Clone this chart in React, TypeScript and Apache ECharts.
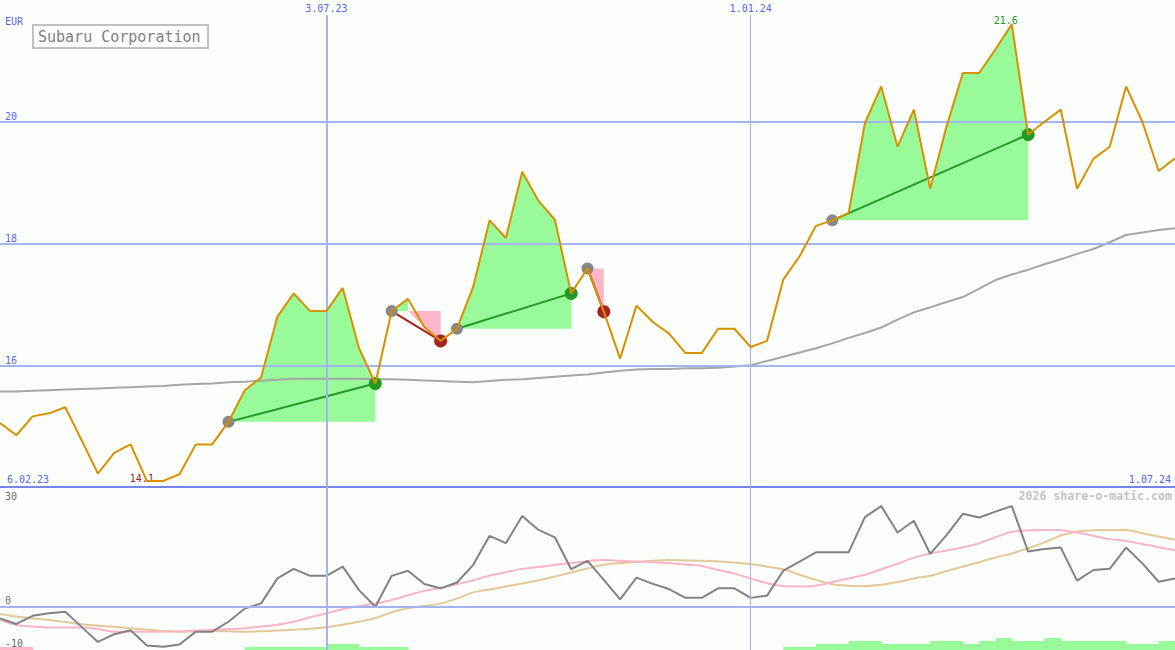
import React, { useEffect, useRef } from "react";
import * as echarts from "echarts";

// ---------- data ----------
const prices = [
  15.05, 14.85, 15.16, 15.21, 15.31, 14.77, 14.22, 14.56, 14.7, 14.1,
  14.1, 14.21, 14.7, 14.7, 15.07, 15.59, 15.8, 16.8, 17.18, 16.89,
  16.89, 17.27, 16.28, 15.7, 16.89, 17.09, 16.63, 16.4, 16.6, 17.29,
  18.38, 18.09, 19.18, 18.7, 18.39, 17.18, 17.59, 16.88, 16.11, 16.98,
  16.71, 16.52, 16.2, 16.2, 16.6, 16.6, 16.3, 16.4, 17.41, 17.79,
  18.29, 18.38, 18.5, 19.98, 20.58, 19.59, 20.2, 18.9, 19.92, 20.8,
  20.8, 21.19, 21.6, 19.79, 20.0, 20.2, 18.9, 19.39, 19.59, 20.58,
  20.0, 19.19, 19.4,
];
const trendAvg = [
  15.57, 15.57, 15.58, 15.59, 15.6, 15.61, 15.62, 15.63, 15.64, 15.65,
  15.66, 15.68, 15.69, 15.7, 15.72, 15.73, 15.745, 15.76, 15.78, 15.78,
  15.78, 15.78, 15.78, 15.77, 15.77, 15.76, 15.75, 15.74, 15.73, 15.72,
  15.74, 15.76, 15.77, 15.79, 15.81, 15.83, 15.85, 15.88, 15.91, 15.93,
  15.94, 15.94, 15.95, 15.95, 15.96, 15.98, 16.0, 16.07, 16.14, 16.21,
  16.28, 16.36, 16.45, 16.53, 16.62, 16.75, 16.87, 16.95, 17.04, 17.12,
  17.26, 17.4, 17.49, 17.57, 17.66, 17.74, 17.83, 17.91, 18.02, 18.14,
  18.18, 18.22, 18.25,
];
const momentum = [
  -3.1, -4.6, -2.4, -1.7, -1.3, -5.4, -9.5, -7.4, -6.3, -10.5,
  -10.8, -10.2, -6.7, -6.7, -4.0, -0.4, 1.0, 7.8, 10.4, 8.5,
  8.5, 11.0, 4.6, 0.1, 8.5, 9.9, 6.3, 5.1, 6.7, 11.5,
  19.4, 17.4, 24.8, 21.0, 19.0, 10.3, 12.6, 7.4, 2.1, 8.0,
  6.3, 4.9, 2.5, 2.5, 5.1, 5.1, 2.5, 3.1, 9.9, 12.4,
  14.9, 14.9, 14.9, 24.5, 27.5, 20.3, 23.5, 14.5, 19.6, 25.4,
  24.4, 26.0, 27.5, 15.1, 15.8, 16.2, 7.2, 10.1, 10.4, 16.2,
  11.9, 6.9, 7.8,
];
const signalFast = [
  -3.5, -4.9, -5.3, -5.6, -5.6, -5.6, -6.0, -6.7, -6.7, -6.7,
  -6.7, -6.6, -6.4, -6.2, -6.0, -5.8, -5.3, -4.8, -4.0, -2.8,
  -1.7, -0.6, 0.3, 0.9, 1.9, 3.2, 4.4, 5.2, 6.2, 7.3,
  8.6, 9.5, 10.4, 10.9, 11.5, 12.0, 12.5, 12.8, 12.6, 12.4,
  12.2, 12.0, 11.6, 11.2, 10.1, 9.1, 7.8, 6.5, 5.7, 5.6,
  5.8, 6.8, 7.8, 8.8, 10.3, 11.8, 13.4, 14.6, 15.4, 16.3,
  17.4, 19.0, 20.5, 20.9, 21.0, 20.9, 20.3, 19.4, 18.5, 18.0,
  17.2, 16.3, 15.5,
];
const signalSlow = [
  -1.9, -2.6, -3.1, -3.5, -4.1, -4.7, -5.1, -5.4, -5.8, -6.2,
  -6.5, -6.7, -6.6, -6.5, -6.6, -6.7, -6.6, -6.4, -6.2, -5.9,
  -5.5, -4.8, -4.0, -3.0, -1.4, -0.3, 0.3, 1.0, 2.3, 4.0,
  4.8, 5.6, 6.4, 7.3, 8.3, 9.4, 10.5, 11.5, 12.0, 12.3,
  12.6, 12.8, 12.7, 12.6, 12.4, 12.1, 11.7, 11.0, 10.3, 8.8,
  7.4, 6.2, 5.8, 5.7, 6.1, 6.8, 7.8, 8.5, 9.8, 11.0,
  12.2, 13.5, 14.6, 16.0, 17.6, 19.5, 20.6, 20.9, 21.0, 21.0,
  20.1, 19.2, 18.3,
];
// per weekly interval: >0 green strength, <0 pink strength
const signalBars = [
  -1, -1, 0, 0, 0, 0, 0, 0, 0, 0,
  0, 0, 0, 0, 0, 1, 1, 1, 1, 1,
  2, 2, 1, 1, 1, 0, 0, 0, 0, 0,
  0, 0, 0, 0, 0, 0, 0, 0, 0, 0,
  0, 0, 0, 0, 0, 0, 0, 0, 1, 1,
  2, 2, 3, 3, 2, 2, 2, 3, 3, 2,
  3, 4, 3, 3, 4, 3, 3, 3, 3, 2,
  2, 3,
];
// trades: [entry index, exit index]
const trades = [
  [14, 23],
  [24, 27],
  [28, 35],
  [36, 37],
  [51, 63],
];
const dateIdx = [20, 46];
const dateLabels = ["3.07.23", "1.01.24"];
const priceTicks = [16, 18, 20];
const oscTicks = [-10, 30];
const startLabel = "6.02.23";
const endLabel = "1.07.24";
const title = "Subaru Corporation";
const currency = "EUR";
const watermark = "2026 share-o-matic.com";

// ---------- styles ----------
const BG = "#fcfefb";
const GRID = "#a4b3f3";
const SEP = "#7585ea";
const TXT = "#5566ee";
const ORANGE = "#d99000";
const GREEN = "#98fa98";
const PINK = "#ffb6c8";
const DGREEN = "#229922";
const DRED = "#a82020";
const MONO = "DejaVu Sans Mono";

const pts = (arr: number[]) => arr.map((v, i) => [i, v]);

export default function App() {
  const ref = useRef<HTMLDivElement>(null);
  useEffect(() => {
    if (!ref.current) return;
    const chart = echarts.init(ref.current, undefined, { renderer: "svg" });
    const N = prices.length - 1;
    let minI = 0,
      maxI = 0;
    prices.forEach((v, i) => {
      if (v < prices[minI]) minI = i;
      if (v > prices[maxI]) maxI = i;
    });

    const option: any = {
      animation: false,
      backgroundColor: BG,
      grid: [
        { left: 0, right: 0, top: 0, height: 487 },
        { left: 0, right: 0, top: 487, height: 163 },
      ],
      xAxis: [0, 1].map((g) => ({
        type: "value",
        gridIndex: g,
        min: 0,
        max: N,
        show: false,
      })),
      yAxis: [
        {
          type: "value",
          gridIndex: 0,
          min: 14,
          max: 22,
          axisLine: { show: false },
          axisTick: { show: false },
          splitLine: { show: false },
          axisLabel: {
            inside: true,
            customValues: priceTicks,
            color: TXT,
            fontFamily: MONO,
            fontSize: 10,
            verticalAlign: "bottom",
            margin: 5,
          },
        },
        {
          type: "value",
          gridIndex: 1,
          min: -11.7,
          max: 32.7,
          axisLine: { show: false },
          axisTick: { show: false },
          splitLine: { show: false },
          axisLabel: {
            inside: true,
            customValues: oscTicks,
            color: "#6a6a6a",
            fontFamily: MONO,
            fontSize: 10,
            verticalAlign: "middle",
            margin: 5,
          },
        },
        { type: "value", gridIndex: 1, min: 0, max: 163 / 3, show: false },
      ],
      graphic: [
        {
          type: "rect",
          shape: { x: 33, y: 25, width: 175, height: 23 },
          style: { fill: "#fdfefd", stroke: "#c0c0c0", lineWidth: 2 },
          z: 10,
        },
        {
          type: "text",
          x: 38,
          y: 36.5,
          style: {
            text: title,
            fill: "#808080",
            font: `15px '${MONO}'`,
            verticalAlign: "middle",
          },
          z: 11,
        },
        {
          type: "text",
          x: 5,
          y: 21.5,
          style: { text: currency, fill: TXT, font: `10px '${MONO}'`, verticalAlign: "middle" },
          z: 11,
        },
        {
          type: "text",
          x: 7,
          y: 479,
          style: { text: startLabel, fill: TXT, font: `10px '${MONO}'`, verticalAlign: "middle" },
          z: 11,
        },
        {
          type: "text",
          x: 1171,
          y: 479,
          style: {
            text: endLabel,
            fill: TXT,
            font: `10px '${MONO}'`,
            verticalAlign: "middle",
            align: "right",
          },
          z: 11,
        },
        {
          type: "text",
          x: 1172,
          y: 496,
          style: {
            text: watermark,
            fill: "#c4c4c4",
            font: `bold 11.6px '${MONO}'`,
            verticalAlign: "middle",
            align: "right",
          },
          z: 11,
        },
      ],
      series: [
        // grid lines (main)
        {
          type: "line",
          xAxisIndex: 0,
          yAxisIndex: 0,
          data: [],
          silent: true,
          z: 1,
          markLine: {
            silent: true,
            symbol: "none",
            label: { show: false },
            data: [
              ...priceTicks.map((v) => ({ yAxis: v, lineStyle: { color: GRID, width: 2, type: "solid" } })),
              { yAxis: 14, lineStyle: { color: SEP, width: 2, type: "solid" } },
              ...dateIdx.map((d, k) => [
                { coord: [d, 14], lineStyle: { color: GRID, width: k === 0 ? 2 : 1, type: "solid" } },
                {
                  coord: [d, 21.75],
                  label: {
                    show: true,
                    position: "end",
                    formatter: dateLabels[k],
                    color: TXT,
                    fontFamily: MONO,
                    fontSize: 10,
                    distance: 2,
                  },
                },
              ]),
            ],
          },
        },
        // grid lines (oscillator)
        {
          type: "line",
          xAxisIndex: 1,
          yAxisIndex: 1,
          data: [],
          silent: true,
          z: 1,
          markLine: {
            silent: true,
            symbol: "none",
            label: { show: false },
            data: [
              {
                yAxis: 0,
                lineStyle: { color: GRID, width: 2, type: "solid" },
                label: {
                  show: true,
                  position: "insideStartTop",
                  formatter: "0",
                  color: "#6a6a6a",
                  fontFamily: MONO,
                  fontSize: 10,
                  distance: [5, 2],
                },
              },
              ...dateIdx.map((d, k) => [
                { coord: [d, -11.7], lineStyle: { color: GRID, width: k === 0 ? 2 : 1, type: "solid" } },
                { coord: [d, 32.7] },
              ]),
            ],
          },
        },
        // trade fills
        {
          type: "custom",
          xAxisIndex: 0,
          yAxisIndex: 0,
          silent: true,
          z: 2,
          data: trades,
          renderItem: (_p: any, api: any) => {
            const s = api.value(0);
            const e = api.value(1);
            const E = prices[s];
            const children: any[] = [];
            let k = s;
            while (k + 1 <= e && prices[k + 1] >= E) k++;
            if (k > s) {
              const poly = [api.coord([s, E])];
              for (let i = s; i <= k; i++) poly.push(api.coord([i, prices[i]]));
              poly.push(api.coord([k, E]));
              children.push({ type: "polygon", shape: { points: poly }, style: { fill: GREEN } });
            }
            if (prices.slice(s, e + 1).some((v) => v < E)) {
              const poly = [api.coord([s, E])];
              for (let i = s; i <= e; i++) poly.push(api.coord([i, Math.min(prices[i], E)]));
              poly.push(api.coord([e, E]));
              children.push({ type: "polygon", shape: { points: poly }, style: { fill: PINK } });
            }
            return { type: "group", children };
          },
        },
        // long average
        {
          type: "line",
          xAxisIndex: 0,
          yAxisIndex: 0,
          data: pts(trendAvg),
          symbol: "none",
          silent: true,
          z: 3,
          lineStyle: { color: "#a6a6a6", width: 2 },
        },
        // trade lines and dots
        {
          type: "custom",
          xAxisIndex: 0,
          yAxisIndex: 0,
          silent: true,
          z: 4,
          data: trades,
          renderItem: (_p: any, api: any) => {
            const s = api.value(0);
            const e = api.value(1);
            const a = api.coord([s, prices[s]]);
            const b = api.coord([e, prices[e]]);
            const win = prices[e] >= prices[s];
            const c = win ? DGREEN : DRED;
            return {
              type: "group",
              children: [
                { type: "line", shape: { x1: a[0], y1: a[1], x2: b[0], y2: b[1] }, style: { stroke: c, lineWidth: 2 } },
                { type: "circle", shape: { cx: a[0], cy: a[1], r: 6 }, style: { fill: "#888888" } },
                { type: "circle", shape: { cx: b[0], cy: b[1], r: 6.5 }, style: { fill: c } },
              ],
            };
          },
        },
        // price
        {
          type: "line",
          xAxisIndex: 0,
          yAxisIndex: 0,
          data: pts(prices),
          symbol: "none",
          silent: true,
          z: 5,
          lineStyle: { color: ORANGE, width: 2 },
          markPoint: {
            silent: true,
            symbol: "circle",
            symbolSize: 0,
            data: [
              {
                coord: [minI, prices[minI]],
                value: prices[minI].toFixed(1),
                label: { show: true, position: "inside", offset: [-5, -2], color: DRED, fontFamily: MONO, fontSize: 10 },
              },
              {
                coord: [maxI, prices[maxI]],
                value: prices[maxI].toFixed(1),
                label: { show: true, position: "inside", offset: [-6, -4], color: DGREEN, fontFamily: MONO, fontSize: 10 },
              },
            ],
          },
        },
        // oscillator lines
        {
          type: "line",
          xAxisIndex: 1,
          yAxisIndex: 1,
          data: pts(signalSlow),
          symbol: "none",
          silent: true,
          z: 3,
          smooth: 0.3,
          lineStyle: { color: "#e2c898", width: 2 },
        },
        {
          type: "line",
          xAxisIndex: 1,
          yAxisIndex: 1,
          data: pts(signalFast),
          symbol: "none",
          silent: true,
          z: 3,
          smooth: 0.3,
          lineStyle: { color: "#f9b4c8", width: 2 },
        },
        {
          type: "line",
          xAxisIndex: 1,
          yAxisIndex: 1,
          data: pts(momentum),
          symbol: "none",
          silent: true,
          z: 4,
          lineStyle: { color: "#828282", width: 2 },
        },
        // signal bars
        {
          type: "custom",
          xAxisIndex: 1,
          yAxisIndex: 2,
          silent: true,
          z: 2,
          data: signalBars.map((v, i) => [i, v]).filter((d) => d[1] !== 0),
          renderItem: (_p: any, api: any) => {
            const i = api.value(0);
            const lv = api.value(1);
            const p0 = api.coord([i, 0]);
            const p1 = api.coord([i + 1, Math.abs(lv)]);
            return {
              type: "rect",
              shape: { x: p0[0], y: p1[1], width: p1[0] - p0[0] + 0.5, height: p0[1] - p1[1] },
              style: { fill: lv > 0 ? GREEN : PINK },
            };
          },
        },
      ],
    };
    chart.setOption(option);
    return () => chart.dispose();
  }, []);
  return (
    <div
      ref={ref}
      style={{ position: "fixed", left: 0, top: 0, width: 1175, height: 650, background: BG }}
    />
  );
}
